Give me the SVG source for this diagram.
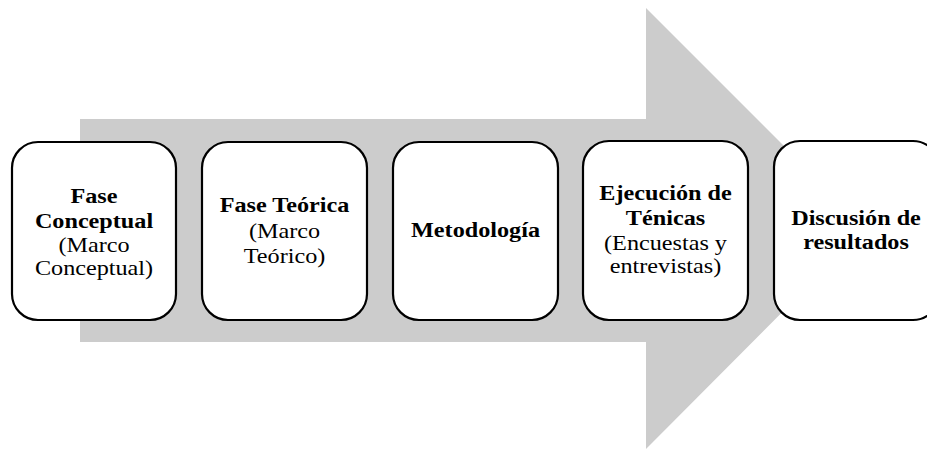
<svg xmlns="http://www.w3.org/2000/svg" width="927" height="450" viewBox="0 0 927 450">
<style>
.box{fill:#ffffff;stroke:#000000;stroke-width:2.2}
.t{font-family:"Liberation Serif","Times New Roman",serif;font-size:22px;fill:#000000;text-anchor:middle}
.b{font-weight:bold}
</style>
<rect width="927" height="450" fill="#ffffff"/>
<g id="arrow">
<polygon points="80,119 646,119 646,8 866,228 646,449 646,342 80,342" fill="#cccccc"/>
</g>
<g id="connectors"></g>
<g id="node1">
<rect class="box" x="12" y="142" width="164" height="178" rx="26" ry="26"/>
<g transform="translate(94,0) scale(1.1,1)">
<text class="t b" x="0" y="203">Fase</text>
<text class="t b" x="0" y="228">Conceptual</text>
<text class="t" x="0" y="252">(Marco</text>
<text class="t" x="0" y="275">Conceptual)</text>
</g>
</g>
<g id="node2">
<rect class="box" x="202" y="142" width="165" height="178" rx="26" ry="26"/>
<g transform="translate(284.5,0) scale(1.1,1)">
<text class="t b" x="0" y="212">Fase Teórica</text>
<text class="t" x="0" y="238">(Marco</text>
<text class="t" x="0" y="263">Teórico)</text>
</g>
</g>
<g id="node3">
<rect class="box" x="393" y="142" width="165" height="178" rx="26" ry="26"/>
<g transform="translate(475.5,0) scale(1.1,1)">
<text class="t b" x="0" y="237">Metodología</text>
</g>
</g>
<g id="node4">
<rect class="box" x="583" y="141" width="165" height="179" rx="26" ry="26"/>
<g transform="translate(665.5,0) scale(1.1,1)">
<text class="t b" x="0" y="200">Ejecución de</text>
<text class="t b" x="0" y="225">Ténicas</text>
<text class="t" x="0" y="250">(Encuestas y</text>
<text class="t" x="0" y="273">entrevistas)</text>
</g>
</g>
<g id="node5">
<rect class="box" x="774" y="141" width="165" height="179" rx="26" ry="26"/>
<g transform="translate(856,0) scale(1.1,1)">
<text class="t b" x="0" y="225">Discusión de</text>
<text class="t b" x="0" y="249">resultados</text>
</g>
</g>
</svg>
